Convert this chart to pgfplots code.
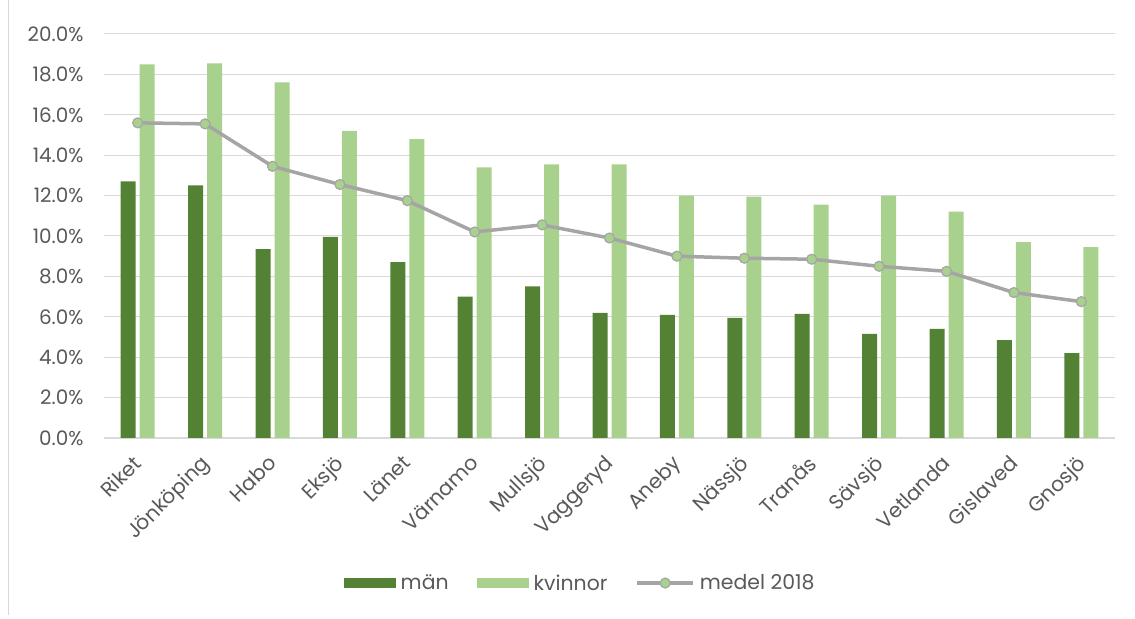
\documentclass[border=0pt]{standalone}
\usepackage{pgfplots}
\pgfplotsset{compat=1.18}
\usepackage{fontspec}
\setmainfont{Poppins}
\definecolor{dk}{HTML}{548235}
\definecolor{lt}{HTML}{A9D18E}
\definecolor{ln}{HTML}{A5A5A5}
\definecolor{txt}{HTML}{595959}
\definecolor{grd}{HTML}{D9D9D9}
\begin{document}
\begin{tikzpicture}[x=1bp,y=1bp]
\path[use as bounding box] (0,0) rectangle (1135,619);
\draw[grd,line width=1bp] (8,619) -- (8,4);
\begin{axis}[
  at={(104bp,181bp)}, anchor=south west,
  scale only axis, width=1011bp, height=404bp,
  xmin=-0.5, xmax=14.5, ymin=0, ymax=20,
  axis line style={draw=none},
  xtick=data,
  xticklabels={Riket,Jönköping,Habo,Eksjö,Länet,Värnamo,Mullsjö,Vaggeryd,Aneby,Nässjö,Tranås,Sävsjö,Vetlanda,Gislaved,Gnosjö},
  x tick label style={rotate=45, anchor=north east, font=\fontsize{20.5}{24}\selectfont, text=txt, xshift=-14bp, yshift=-6bp, inner sep=1bp},
  ytick={0,2,...,20},
  yticklabel={\pgfmathprintnumber[fixed,fixed zerofill,precision=1]{\tick}\%},
  /pgf/number format/assume math mode=true,
  y tick label style={font=\fontsize{20}{24}\selectfont, text=txt, xshift=-17bp},
  major tick length=0pt,
  ymajorgrids, grid style={grd, line width=1bp},
  extra y ticks={0}, extra y tick labels={},
  extra y tick style={grid style={grd,line width=1.5bp}},
  ybar=4bp, bar width=15bp,
  legend columns=3,
  legend style={at={(0.471,-0.359)}, anchor=center, draw=none, fill=none,
    font=\fontsize{20.5}{24}\selectfont, text=txt,
    /tikz/every even column/.append style={column sep=26bp},
    /tikz/every odd column/.append style={column sep=3bp}},
  legend cell align=left,
]
\addplot[fill=dk, draw=none, legend image code/.code={\fill[dk] (0bp,-5bp) rectangle (52bp,5bp);}] coordinates {
(0,12.7) (1,12.5) (2,9.35) (3,9.95) (4,8.7) (5,7.0) (6,7.5) (7,6.2) (8,6.1) (9,5.95) (10,6.15) (11,5.15) (12,5.4) (13,4.85) (14,4.2)};
\addlegendentry{män}
\addplot[fill=lt, draw=none, legend image code/.code={\fill[lt] (0bp,-5bp) rectangle (52bp,5bp);}] coordinates {
(0,18.5) (1,18.55) (2,17.6) (3,15.2) (4,14.8) (5,13.4) (6,13.55) (7,13.55) (8,12.0) (9,11.95) (10,11.55) (11,12.0) (12,11.2) (13,9.7) (14,9.45)};
\addlegendentry{kvinnor}
\addplot[sharp plot, ln, line width=3.5bp, mark=*, mark size=5bp, mark options={fill=lt, draw=ln, line width=1.2bp},
  legend image code/.code={\draw[ln,line width=3.5bp] (0bp,0bp) -- (56bp,0bp); \draw[fill=lt,draw=ln,line width=1.2bp] (28bp,0bp) circle (5bp);}] coordinates {
(0,15.6) (1,15.55) (2,13.45) (3,12.55) (4,11.75) (5,10.2) (6,10.55) (7,9.9) (8,9.0) (9,8.9) (10,8.85) (11,8.5) (12,8.25) (13,7.2) (14,6.75)};
\addlegendentry{medel 2018}
\end{axis}
\end{tikzpicture}
\end{document}
